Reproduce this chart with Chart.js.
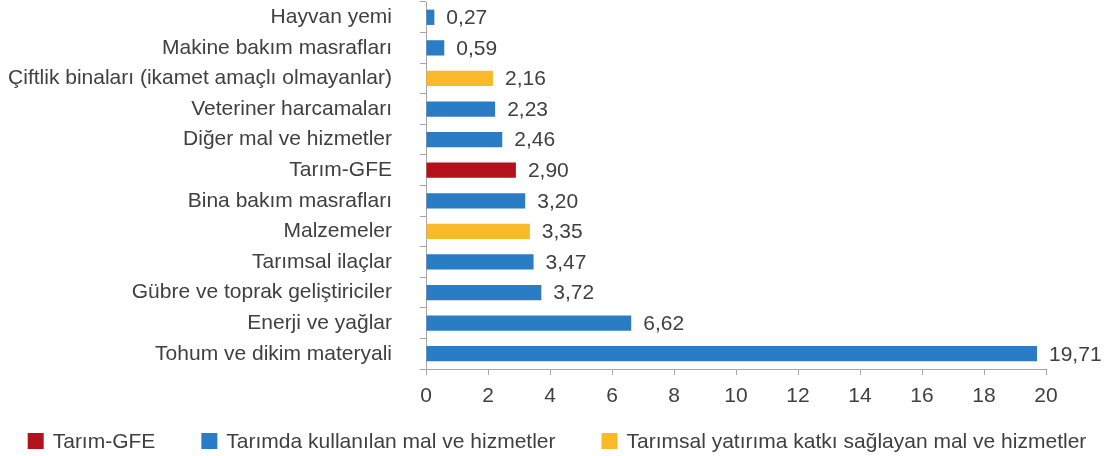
<!DOCTYPE html>
<html>
<head>
<meta charset="utf-8">
<script src="https://cdn.jsdelivr.net/npm/chart.js@4"></script>
<style>
  html, body { margin: 0; padding: 0; background: #fff; }
  #wrap { width: 1105px; height: 456px; position: relative; }
</style>
</head>
<body>
<div id="wrap"><canvas id="chart"></canvas></div>
<script>
'use strict'

// data
const categories = [
    "Hayvan yemi",
    "Makine bakım masrafları",
    "Çiftlik binaları (ikamet amaçlı olmayanlar)",
    "Veteriner harcamaları",
    "Diğer mal ve hizmetler",
    "Tarım-GFE",
    "Bina bakım masrafları",
    "Malzemeler",
    "Tarımsal ilaçlar",
    "Gübre ve toprak geliştiriciler",
    "Enerji ve yağlar",
    "Tohum ve dikim materyali"
];
const values = [0.27, 0.59, 2.16, 2.23, 2.46, 2.90, 3.20, 3.35, 3.47, 3.72, 6.62, 19.71];
// which group each category belongs to
const groups = ["mal", "mal", "yatirim", "mal", "mal", "gfe", "mal", "yatirim", "mal", "mal", "mal", "mal"];
const seriesKeys = ["gfe", "mal", "yatirim"];
const seriesNames = [
    "Tarım-GFE",
    "Tarımda kullanılan mal ve hizmetler",
    "Tarımsal yatırıma katkı sağlayan mal ve hizmetler"
];
const xTicks = [0, 2, 4, 6, 8, 10, 12, 14, 16, 18, 20];

const seriesColors = ["#b3121c", "#2a7cc4", "#f9b92b"];
const textColor = "#404040";
const fontFamily = "'Liberation Sans', Arial, sans-serif";
const fontSize = 21;

const datasets = seriesKeys.map((key, i) => ({
    label: seriesNames[i],
    data: values.map((v, j) => groups[j] === key ? v : null),
    backgroundColor: seriesColors[i],
    borderWidth: 0,
    barPercentage: 0.5,
    categoryPercentage: 1
}));

// value labels right of each bar
const valueLabels = {
    id: "valueLabels",
    afterDatasetsDraw(chart) {
        const ctx = chart.ctx;
        ctx.save();
        ctx.font = fontSize + "px " + fontFamily;
        ctx.fillStyle = textColor;
        ctx.textBaseline = "middle";
        ctx.textAlign = "left";
        chart.data.datasets.forEach((ds, i) => {
            const meta = chart.getDatasetMeta(i);
            meta.data.forEach((bar, j) => {
                const v = ds.data[j];
                if (v === null) return;
                ctx.fillText(v.toFixed(2).replace(".", ","), bar.x + 12, bar.y + 1);
            });
        });
        ctx.restore();
    }
};

// legend row under the axis, built from the datasets
const bottomLegend = {
    id: "bottomLegend",
    afterDraw(chart) {
        const ctx = chart.ctx;
        const box = 16, gap = 9, itemGap = 46;
        ctx.save();
        ctx.font = fontSize + "px " + fontFamily;
        const items = chart.data.datasets.map(ds => ({
            text: ds.label,
            color: ds.backgroundColor,
            w: ctx.measureText(ds.label).width
        }));
        let total = 0;
        items.forEach(it => { total += box + gap + it.w; });
        total += itemGap * (items.length - 1);
        let x = 557 - total / 2;
        const y = 441;
        ctx.textBaseline = "middle";
        ctx.textAlign = "left";
        items.forEach(it => {
            ctx.fillStyle = it.color;
            ctx.fillRect(x, y - box / 2, box, box);
            ctx.fillStyle = textColor;
            ctx.fillText(it.text, x + box + gap, y + 1);
            x += box + gap + it.w + itemGap;
        });
        ctx.restore();
    }
};

new Chart(document.getElementById("chart"), {
    type: "bar",
    data: { labels: categories, datasets: datasets },
    plugins: [valueLabels, bottomLegend],
    options: {
        indexAxis: "y",
        responsive: true,
        maintainAspectRatio: false,
        animation: false,
        layout: { padding: { left: 0, right: 59, top: 2, bottom: 47 } },
        scales: {
            x: {
                stacked: true,
                min: 0,
                max: 20,
                afterBuildTicks: (scale) => { scale.ticks = xTicks.map(v => ({ value: v })); },
                afterFit: (scale) => { scale.height = 40; },
                grid: { drawOnChartArea: false, tickLength: 6, color: "#a6a6a6" },
                border: { color: "#a6a6a6" },
                ticks: { color: textColor, font: { family: fontFamily, size: fontSize }, padding: 9 }
            },
            y: {
                stacked: true,
                afterFit: (scale) => {
                    scale.width = 426;
                    scale.paddingTop = 0;
                    scale.paddingBottom = 0;
                },
                grid: { drawOnChartArea: false, offset: true, tickLength: 6, color: "#a6a6a6" },
                border: { color: "#a6a6a6" },
                ticks: {
                    autoSkip: false,
                    color: textColor,
                    font: { family: fontFamily, size: fontSize },
                    padding: 28
                }
            }
        },
        plugins: {
            tooltip: { enabled: false },
            legend: { display: false }
        }
    }
});
</script>
</body>
</html>
